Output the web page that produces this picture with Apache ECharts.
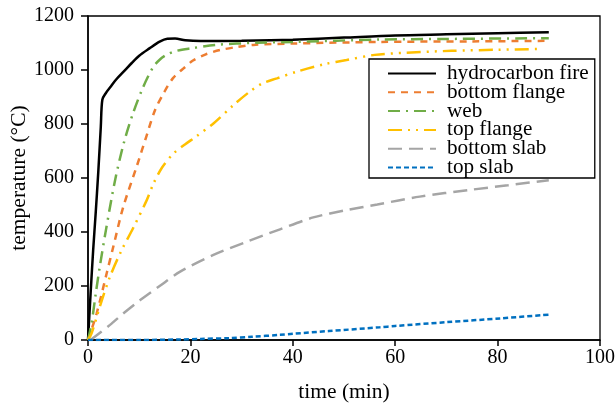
<!DOCTYPE html>
<html>
<head>
<meta charset="utf-8">
<script src="https://cdn.jsdelivr.net/npm/echarts@6/dist/echarts.min.js"></script>
<style>html,body{margin:0;padding:0;background:#fff}#c{width:616px;height:403px}</style>
</head>
<body>
<div id="c"></div>
<script>
var seriesNames = ['hydrocarbon fire','bottom flange','web','top flange','bottom slab','top slab'];
var xTicks = [0,20,40,60,80,100];
var yTicks = [0,200,400,600,800,1000,1200];

var hydrocarbonFire = [[0,0],[0.5,170],[1,330],[1.5,470],[2,620],[2.5,790],[2.8,890],[3.5,915],[4.5,940],[5.5,965],[7,995],[8.5,1025],[10,1053],[12,1080],[14,1105],[15.5,1116],[17,1117],[19,1110],[22,1107],[30,1108],[40,1112],[50,1120],[60,1128],[70,1132],[80,1136],[90,1140]];
var bottomFlange = [[0,0],[1.7,99],[3.65,247],[5,350],[6.9,494],[9.5,642],[11.5,760],[13.1,852],[14.8,915],[16.6,970],[18.6,1005],[20.5,1035],[23,1058],[25.8,1074],[29,1085],[32.3,1093],[40,1098],[57,1104],[75,1106],[90,1108]];
var web = [[0,0],[0.7,62],[1.5,170],[2.3,271],[3.5,407],[5.3,593],[7,730],[8.8,840],[10.8,938],[12.7,1010],[14.1,1040],[15.5,1058],[17.3,1071],[20,1080],[25,1093],[33,1101],[40,1104],[57,1113],[70,1115],[90,1118]];
var topFlange = [[0,0],[0.7,25],[2.5,135],[4.3,235],[6.5,330],[8.8,414],[11.5,519],[12.8,580],[14.5,640],[16.7,691],[19,725],[21,752],[24.5,802],[28.4,870],[31.6,920],[34,950],[36.9,969],[40.8,994],[46.3,1022],[50.5,1037],[56,1056],[62,1064],[71,1071],[80,1075],[88,1078]];
var bottomSlab = [[0.5,0],[4.3,56],[7,100],[10.2,148],[14,200],[18,253],[24.5,315],[31,364],[37.5,410],[44,454],[50.5,481],[56.5,502],[64.8,531],[74.6,556],[82,573],[90,592]];
var topSlab = [[0,0],[10,0],[18,2],[22,4],[27.7,7],[32,12],[37.5,19],[40,23],[47,33],[57,47],[60,52],[70,66],[80.5,80],[90,94]];

var FONT = '"Liberation Serif", "Times New Roman", serif';

function mk(name, data, color, width, type) {
  return {
    name: name, type: 'line', data: data, smooth: 0.3, showSymbol: false, symbol: 'none',
    lineStyle: {color: color, width: width, type: type, cap: 'butt'},
    itemStyle: {color: color},
    emphasis: {disabled: true}
  };
}

var chart = echarts.init(document.getElementById('c'), null, {renderer: 'canvas'});
chart.setOption({
  animation: false,
  backgroundColor: '#fff',
  grid: {left: 88, right: 16, top: 16, bottom: 63, show: true, borderColor: '#000', borderWidth: 1.3, containLabel: false, outerBoundsMode: 'none'},
  xAxis: {
    type: 'value', min: xTicks[0], max: xTicks[xTicks.length-1], interval: 20,
    name: 'time (min)', nameLocation: 'middle', nameGap: 41, nameMoveOverlap: false,
    nameTextStyle: {fontFamily: FONT, fontSize: 21.5, color: '#000'},
    axisLine: {lineStyle: {color: '#000', width: 1.5}},
    axisTick: {show: true, inside: false, length: 6, lineStyle: {color: '#000', width: 1.5}},
    axisLabel: {fontFamily: FONT, fontSize: 20, color: '#000', margin: 8, formatter: function(v){return String(v);}},
    splitLine: {show: false}
  },
  yAxis: {
    type: 'value', min: yTicks[0], max: yTicks[yTicks.length-1], interval: 200,
    name: 'temperature (°C)', nameLocation: 'middle', nameGap: 58, nameMoveOverlap: false,
    nameTextStyle: {fontFamily: FONT, fontSize: 21.5, color: '#000'},
    axisLine: {lineStyle: {color: '#000', width: 1.5}},
    axisTick: {show: true, inside: false, length: 7, lineStyle: {color: '#000', width: 1.5}},
    axisLabel: {fontFamily: FONT, fontSize: 20, color: '#000', margin: 14, formatter: function(v){return String(v);}},
    splitLine: {show: false}
  },
  legend: {
    orient: 'vertical', left: 369, top: 59,
    data: seriesNames,
    itemWidth: 48, itemHeight: 14, itemGap: -2.2,
    padding: [4, 6, 0, 18],
    borderColor: '#000', borderWidth: 1.3,
    backgroundColor: '#fff',
    itemStyle: {color: 'rgba(0,0,0,0)', borderWidth: 0, opacity: 0},
    textStyle: {fontFamily: FONT, fontSize: 21.2, color: '#000', padding: [0,0,0,6]}
  },
  series: [
    mk(seriesNames[0], hydrocarbonFire, '#000000', 2.5, 'solid'),
    mk(seriesNames[1], bottomFlange, '#ED7D31', 2.5, [7,6]),
    mk(seriesNames[2], web, '#70AD47', 2.5, [12,6,2,6]),
    mk(seriesNames[3], topFlange, '#FFC000', 2.5, [14,6,2,6,2,6]),
    mk(seriesNames[4], bottomSlab, '#A5A5A5', 2.5, [14,7]),
    mk(seriesNames[5], topSlab, '#0070C0', 2.5, [5,3])
  ]
});
</script>
</body>
</html>
